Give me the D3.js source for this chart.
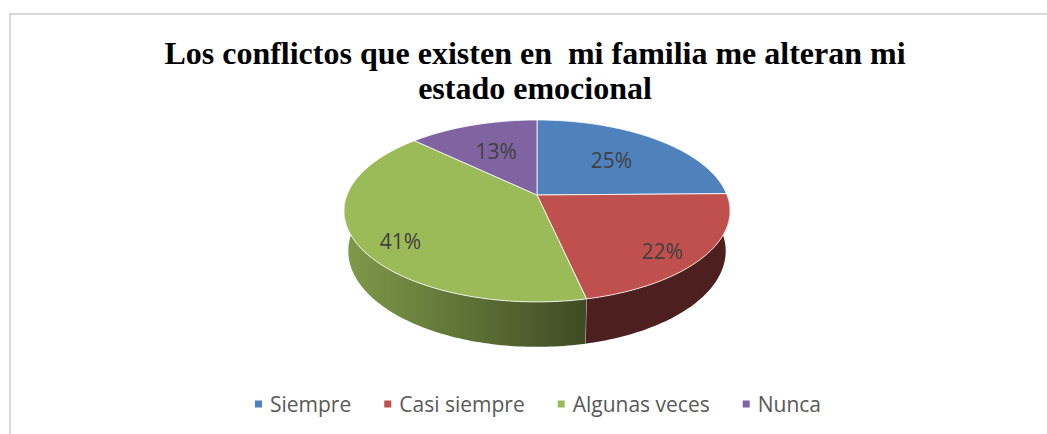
<!DOCTYPE html>
<html>
<head>
<meta charset="utf-8">
<script src="https://cdn.jsdelivr.net/npm/d3@7"></script>
<style>
    body { margin: 0; background: #fff; }
    svg { display: block; }
    .title { font-family: "Liberation Serif", "Times New Roman", serif; font-weight: bold; font-size: 32px; white-space: pre; }
    .label { font-family: "Open Sans", sans-serif; font-size: 21px; fill: #404040; }
    .legend text { font-family: "Open Sans", sans-serif; font-size: 21px; fill: #595959; }
</style>
</head>
<body>
<div class="container"></div>
<script>
let categories = ["Siempre", "Casi siempre", "Algunas veces", "Nunca"];
let values = [25, 22, 41, 13];
let labels = ["25%", "22%", "41%", "13%"];
let colors = ["#4f81bd", "#c0504d", "#9bbb59", "#8064a2"];
let titleLines = ["Los conflictos que existen en  mi familia me alteran mi", "estado emocional"];

let width = 1047;
let height = 434;

// 3d view of the pie (tilt and perspective)
let view = {
    cx: 537,
    cy: 195,
    px: 190,        // projected radius at the middle row
    R: 0.198,       // radius / camera distance
    sinT: 0.464,
    cosT: 0.886,
    depth: 0.24     // thickness / radius
};
let f = view.px / view.R;

const project = (theta, r, h) => {
    let X = r * view.R * Math.sin(theta);
    let Z = r * view.R * Math.cos(theta);
    let Y = -h * view.depth * view.R;
    let yc = Z * view.sinT + Y * view.cosT;
    let dist = 1 + Z * view.cosT - Y * view.sinT;
    return [view.cx + f * X / dist, view.cy - f * yc / dist];
};

let svg = d3.select(".container")
    .append("svg")
    .attr("width", width)
    .attr("height", height);

// chart area border
svg.append("rect")
    .attr("x", 10)
    .attr("y", 14)
    .attr("width", width + 20)
    .attr("height", height + 20)
    .attr("fill", "none")
    .attr("stroke", "#d9d9d9")
    .attr("stroke-width", 2);

svg.selectAll(".title")
    .data(titleLines)
    .enter()
    .append("text")
    .attr("class", "title")
    .attr("x", 535)
    .attr("y", function (d, i) { return 64 + i * 35; })
    .attr("text-anchor", "middle")
    .text(function (d) { return d; });

let color = d3.scaleOrdinal().domain(categories).range(colors);

let pie = d3.pie()
    .sort(null)
    .value(function (d) { return d.value; });

let data = categories.map(function (c, i) {
    return { name: c, value: values[i], label: labels[i] };
});
let arcs = pie(data);

const arcPoints = (a0, a1, r, h) => {
    let n = Math.max(2, Math.ceil((a1 - a0) / 0.02));
    return d3.range(n + 1).map(function (i) {
        return project(a0 + (a1 - a0) * i / n, r, h);
    });
};

// side shading: lighter towards the left
const shade = (theta) => {
    let t = Math.max(0, Math.min(1, (theta - Math.PI * 0.93) / (Math.PI * 0.55)));
    return 0.4 + 0.42 * t;
};

let defs = svg.append("defs");
let sides = svg.append("g");
let tops = svg.append("g");

arcs.forEach(function (d, i) {
    let s0 = Math.max(d.startAngle, Math.PI / 2);
    let s1 = Math.min(d.endAngle, Math.PI * 1.5);
    if (s1 <= s0) return;
    let base = d3.rgb(color(d.data.name));
    let p0 = project(s0, 1, 0);
    let p1 = project(s1, 1, 0);
    let grad = defs.append("linearGradient")
        .attr("id", "side" + i)
        .attr("gradientUnits", "userSpaceOnUse")
        .attr("x1", p0[0]).attr("y1", 0)
        .attr("x2", p1[0]).attr("y2", 0);
    [[0, s0], [1, s1]].forEach(function (s) {
        let k = shade(s[1]);
        grad.append("stop")
            .attr("offset", s[0])
            .attr("stop-color", d3.rgb(base.r * k, base.g * k, base.b * k));
    });
    let pts = arcPoints(s0, s1, 1, 0).concat(arcPoints(s0, s1, 1, 1).reverse());
    sides.append("path")
        .attr("d", d3.line()(pts) + "Z")
        .attr("fill", "url(#side" + i + ")");
    // seam where slices meet on the side
    if (d.endAngle < Math.PI * 1.5 && d.endAngle > Math.PI / 2) {
        sides.append("line")
            .attr("x1", p1[0]).attr("y1", p1[1])
            .attr("x2", project(s1, 1, 1)[0]).attr("y2", project(s1, 1, 1)[1])
            .attr("stroke", "#ffffff")
            .attr("stroke-opacity", 0.6)
            .attr("stroke-width", 1);
    }
});

arcs.forEach(function (d) {
    let pts = [project(0, 0, 0)].concat(arcPoints(d.startAngle, d.endAngle, 1, 0));
    tops.append("path")
        .attr("d", d3.line()(pts) + "Z")
        .attr("fill", color(d.data.name))
        .attr("stroke", "#ffffff")
        .attr("stroke-opacity", 0.8)
        .attr("stroke-width", 1)
        .attr("stroke-linejoin", "round");
});

// data labels
svg.append("g")
    .selectAll("text")
    .data(arcs)
    .enter()
    .append("text")
    .attr("class", "label")
    .attr("text-anchor", "middle")
    .attr("dominant-baseline", "central")
    .attr("transform", function (d) {
        let mid = (d.startAngle + d.endAngle) / 2;
        let front = Math.cos(mid) < 0;
        let p = project(mid, front ? 0.77 : 0.6, 0);
        return "translate(" + p[0] + "," + (p[1] + (front ? 10 : 0)) + ")";
    })
    .text(function (d) { return d.data.label; });

// legend
let legend = svg.append("g").attr("class", "legend");
let items = legend.selectAll("g")
    .data(categories)
    .enter()
    .append("g");

items.append("rect")
    .attr("width", 7)
    .attr("height", 7)
    .attr("y", -3.5)
    .attr("fill", function (d) { return color(d); });

items.append("text")
    .attr("x", 15)
    .attr("dominant-baseline", "central")
    .text(function (d) { return d; });

let xPos = 0;
items.each(function () {
    let g = d3.select(this);
    g.attr("transform", "translate(" + xPos + ",0)");
    xPos += 15 + g.select("text").node().getComputedTextLength() + 33;
});
let legendWidth = xPos - 33;
legend.attr("transform", "translate(" + (538 - legendWidth / 2) + ",404)");
</script>
</body>
</html>
